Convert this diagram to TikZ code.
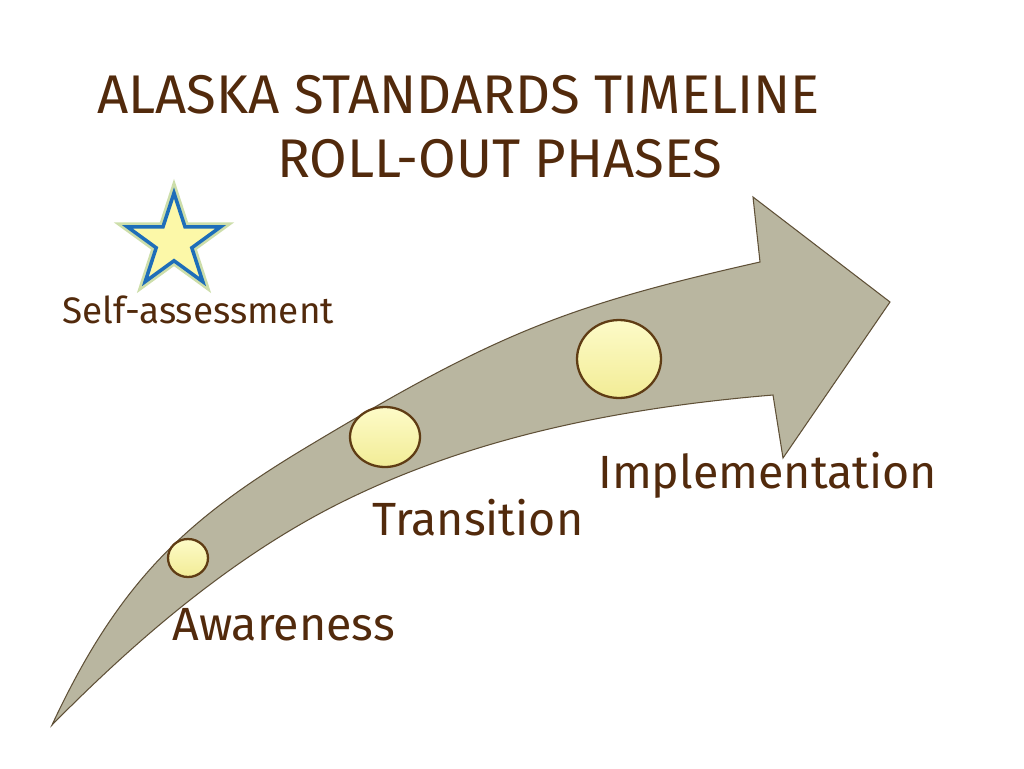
\documentclass[tikz,border=0pt]{standalone}
\usepackage{fontspec}
\setmainfont{Fira Sans}
\usetikzlibrary{shapes.geometric}
\definecolor{arrowfill}{RGB}{185,182,160}
\definecolor{arrowline}{RGB}{95,80,55}
\definecolor{textbrown}{RGB}{82,42,12}
\definecolor{dotline}{RGB}{95,60,20}
\definecolor{dotlight}{RGB}{253,251,200}
\definecolor{dotdark}{RGB}{242,236,150}
\definecolor{starfill}{RGB}{252,248,168}
\definecolor{starline}{RGB}{30,110,185}
\definecolor{starglow}{RGB}{205,222,170}

\begin{document}
\begin{tikzpicture}[x=0.02cm,y=-0.02cm,
    phase/.style={shape=ellipse,draw=dotline,line width=1.3pt,inner sep=0pt,
        top color=dotlight,bottom color=dotdark},
    phasetext/.style={anchor=base west,inner sep=0pt,text=textbrown,font=\fontsize{26.5}{30}\selectfont},
    titletext/.style={anchor=base west,inner sep=0pt,text=textbrown,font=\fontsize{31}{36}\selectfont},
    starshape/.style={shape=star,star points=5,star point ratio=2.618,
        minimum size=1.96cm,inner sep=0pt}]
\useasboundingbox (0,0) rectangle (1024,768);

% the bent arrow
\coordinate (tail) at (52,725);
\coordinate (upperbend) at (307,447);
\coordinate (uppershaft) at (760,262);
\coordinate (headtop) at (753,197);
\coordinate (headtip) at (890,302);
\coordinate (headbottom) at (783,458);
\coordinate (lowershaft) at (773,395);
\coordinate (lowerbend) at (340,503);
\filldraw[fill=arrowfill,draw=arrowline,line width=0.6pt,line join=miter]
    (tail) .. controls (119.7,580) and (187,519) .. (upperbend)
    .. controls (495.5,333.9) and (564.8,306) .. (uppershaft)
    -- (headtop) -- (headtip) -- (headbottom) -- (lowershaft)
    .. controls (623.6,407.5) and (474,436) .. (lowerbend)
    .. controls (232.7,556.6) and (136,639.8) .. (tail)
    -- cycle;

% phases
\node[phase,minimum width=0.8cm,minimum height=0.76cm] (aware) at (188,558) {};
\node[phase,minimum width=1.4cm,minimum height=1.2cm] (trans) at (385,437) {};
\node[phase,minimum width=1.68cm,minimum height=1.56cm] (impl) at (619,359) {};

\node[phasetext] (awaretext) at (172,640) {Awareness};
\node[phasetext] (transtext) at (372,535) {Transition};
\node[phasetext] (impltext) at (598,488) {Implementation};

% star
\node[starshape,draw=starglow,line width=5pt] (glow) at (174,242) {};
\node[starshape,draw=starline,fill=starfill,line width=2pt] (star) at (174,242) {};
\node[anchor=base west,inner sep=0pt,text=textbrown,font=\fontsize{21}{25}\selectfont] (selftext) at (62,323) {Self-assessment};

% title
\node[titletext] (title1) at (97,113) {ALASKA STANDARDS TIMELINE};
\node[titletext] (title2) at (277,177) {ROLL-OUT PHASES};
\end{tikzpicture}
\end{document}
